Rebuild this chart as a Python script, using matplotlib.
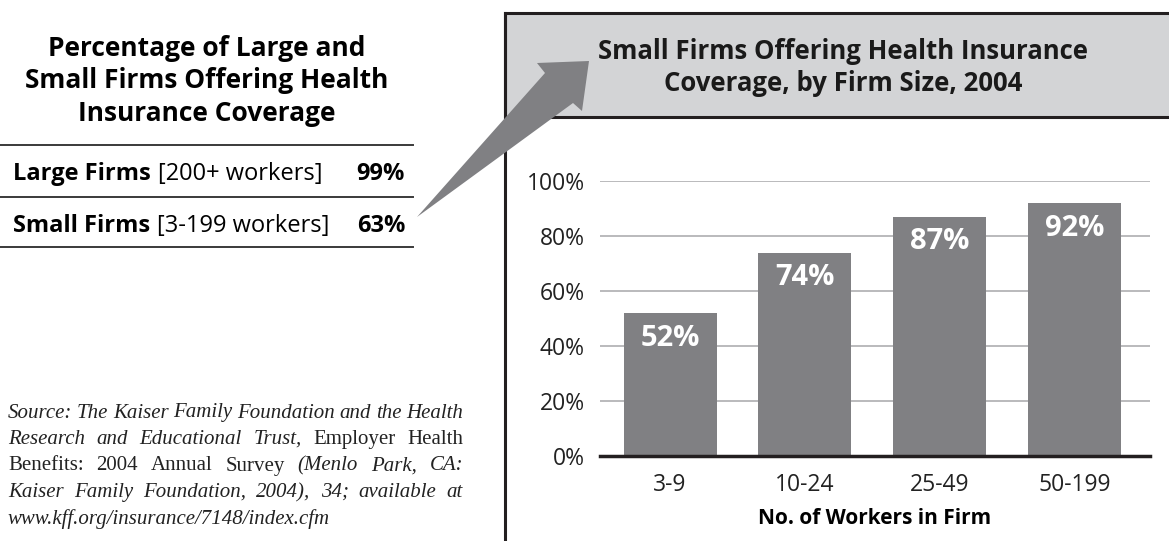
import matplotlib
matplotlib.use("Agg")
import matplotlib.pyplot as plt
from matplotlib.patches import Rectangle, Polygon

W, H = 1169, 541

# bar chart data
firm_sizes = ["3-9", "10-24", "25-49", "50-199"]
pct_offering = [52, 74, 87, 92]
y_ticks = [0, 20, 40, 60, 80, 100]

# small table on the left
table_names = ["Large Firms", "Small Firms"]
table_ranges = ["[200+ workers]", "[3-199 workers]"]
table_pct = [99, 63]

# source note, one list of (word group, style) per printed line
source_lines = [
    [("Source: The Kaiser Family Foundation and the Health", "italic")],
    [("Research and Educational Trust,", "italic"), ("Employer Health", "normal")],
    [("Benefits: 2004 Annual Survey", "normal"), ("(Menlo Park, CA:", "italic")],
    [("Kaiser Family Foundation, 2004), 34; available at", "italic")],
    [("www.kff.org/insurance/7148/index.cfm", "italic")],
]

BAR = "#808083"
DARK = "#231f20"
BAND = "#d3d4d6"
GRID = "#b4b4b6"
SANS = "Open Sans"
SERIF = "Liberation Serif"

fig = plt.figure(figsize=(W / 100, H / 100), dpi=100)
bg = fig.add_axes([0, 0, 1, 1])
bg.set_xlim(0, W)
bg.set_ylim(H, 0)
bg.axis("off")
renderer = fig.canvas.get_renderer()


def width_of(t):
    return t.get_window_extent(renderer).width


# ---- left side: title and table
bg.text(207, 81, "Percentage of Large and\nSmall Firms Offering Health\nInsurance Coverage",
        ha="center", va="center", family=SANS, weight="bold", fontsize=19,
        linespacing=1.26, color="black")
for yl in [145, 197, 247]:
    bg.plot([0, 413], [yl, yl], color="#3a3a3a", lw=1.4)
for i, (name, rng, pct) in enumerate(zip(table_names, table_ranges, table_pct)):
    yc = 174 + 52 * i
    t = bg.text(13, yc, name, va="center", family=SANS, weight="bold", fontsize=17)
    bg.text(13 + width_of(t) + 7, yc, rng, va="center", family=SANS, fontsize=17)
    bg.text(405, yc, f"{pct}%", ha="right", va="center", family=SANS, weight="bold", fontsize=17)

# ---- source note, justified
x0, x1 = 8, 463
space = 5
for i, line in enumerate(source_lines):
    yc = 413 + 26.5 * i
    words = []
    for chunk, style in line:
        words += [(w, style) for w in chunk.split(" ")]
    arts = [bg.text(0, yc, w, va="center", family=SERIF, style=s, fontsize=15, color="#222222")
            for w, s in words]
    ws = [width_of(a) for a in arts]
    last = i == len(source_lines) - 1
    gap = space if last or len(ws) < 2 else (x1 - x0 - sum(ws)) / (len(ws) - 1)
    x = x0
    for a, w in zip(arts, ws):
        a.set_x(x)
        x += w + gap

# ---- right panel frame and title band
bg.add_patch(Rectangle((505, 13), W, 104, facecolor=BAND, edgecolor=DARK, lw=2.2))
bg.plot([505, 505], [13, H], color=DARK, lw=2.2)
bg.text(843, 67.5, "Small Firms Offering Health Insurance\nCoverage, by Firm Size, 2004",
        ha="center", va="center", family=SANS, weight="bold", fontsize=18.5,
        linespacing=1.25, color="#1a1a1a")

# arrow from the small firms row to the chart title
bg.add_patch(Polygon([(417, 217), (545, 73), (537, 63), (589, 61), (582, 111), (573, 103)],
                     closed=True, facecolor=BAR, edgecolor="none", zorder=5))

# ---- bar chart
ax = fig.add_axes([600 / W, (H - 456) / H, 550 / W, 275 / H])
ax.patch.set_alpha(0)
pos = range(len(firm_sizes))
ax.bar(pos, pct_offering, width=0.69, color=BAR, zorder=2)
ax.set_xlim(-0.52, 3.56)
ax.set_ylim(0, 100)
ax.set_yticks(y_ticks)
ax.set_yticklabels([f"{v}%" for v in y_ticks])
ax.set_xticks(list(pos))
ax.set_xticklabels(firm_sizes)
ax.grid(axis="y", color=GRID, lw=1.3, zorder=0)
for side in ["top", "right", "left"]:
    ax.spines[side].set_visible(False)
ax.spines["bottom"].set_color(DARK)
ax.spines["bottom"].set_linewidth(2.5)
ax.spines["bottom"].set_zorder(3)
ax.tick_params(length=0, labelsize=16.5, colors="#222222")
ax.tick_params(axis="y", pad=11)
ax.tick_params(axis="x", pad=12)
for lab in ax.get_xticklabels() + ax.get_yticklabels():
    lab.set_family(SANS)
ax.set_xlabel("No. of Workers in Firm", family=SANS, weight="bold", fontsize=15, labelpad=8)

for p, v in zip(pos, pct_offering):
    ax.text(p, v - 9.1, f"{v}%", ha="center", va="center", color="white",
            family=SANS, weight="bold", fontsize=21, zorder=4)

fig.savefig("out.png", dpi=100)
